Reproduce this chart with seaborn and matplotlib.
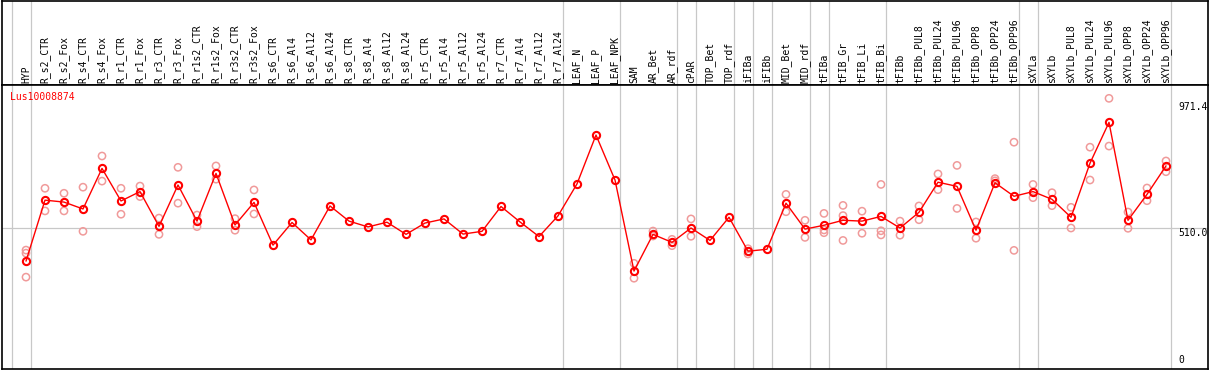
import numpy as np
import pandas as pd
import matplotlib
matplotlib.use("Agg")
import matplotlib.pyplot as plt
import seaborn as sns

categories = ["HYP", "R_s2_CTR", "R_s2_Fox", "R_s4_CTR", "R_s4_Fox", "R_r1_CTR", "R_r1_Fox",
              "R_r3_CTR", "R_r3_Fox", "R_r1s2_CTR", "R_r1s2_Fox", "R_r3s2_CTR", "R_r3s2_Fox",
              "R_s6_CTR", "R_s6_Al4", "R_s6_Al12", "R_s6_Al24", "R_s8_CTR", "R_s8_Al4",
              "R_s8_Al12", "R_s8_Al24", "R_r5_CTR", "R_r5_Al4", "R_r5_Al12", "R_r5_Al24",
              "R_r7_CTR", "R_r7_Al4", "R_r7_Al12", "R_r7_Al24", "LEAF_N", "LEAF_P", "LEAF_NPK",
              "SAM", "AR_Bet", "AR_rdf", "cPAR", "TOP_Bet", "TOP_rdf", "iFIBa", "iFIBb",
              "MID_Bet", "MID_rdf", "tFIBa", "tFIB_Gr", "tFIB_Li", "tFIB_Bi", "tFIBb",
              "tFIBb_PUL8", "tFIBb_PUL24", "tFIBb_PUL96", "tFIBb_OPP8", "tFIBb_OPP24",
              "tFIBb_OPP96", "sXYLa", "sXYLb", "sXYLb_PUL8", "sXYLb_PUL24", "sXYLb_PUL96",
              "sXYLb_OPP8", "sXYLb_OPP24", "sXYLb_OPP96"]

mean_values = [391, 612, 605, 580, 727, 609, 643, 517, 667, 536, 709, 522, 604,
               449, 531, 468, 591, 536, 515, 532, 488, 529, 544, 489, 499, 589, 533, 480, 555,
               671, 848, 685,
               355, 488, 459, 511, 466, 550, 427, 434, 601, 507, 521, 539, 536, 553,
               511, 568, 677, 662, 503, 675, 626,
               643, 615, 550, 746, 894, 539, 633, 736]

nan = np.nan
rep_a = [431, 655, 637, 659, 772, 655, 663, 547, 731, 558, 736, 545, 649,
         nan, nan, nan, nan, nan, nan, nan, nan, nan, nan, nan, nan, nan, nan, nan, nan,
         nan, nan, nan,
         383, 500, 470, 544, nan, nan, 436, nan, 633, 539, 564, 593, 572, 669,
         536, 591, 707, 738, 533, 690, 822,
         669, 639, 586, 804, 981, 569, 656, 754]
rep_b = [420, 573, 573, 499, 681, 561, 625, 488, 601, 516, 688, 503, 562,
         nan, nan, nan, nan, nan, nan, nan, nan, nan, nan, nan, nan, nan, nan, nan, nan,
         nan, nan, nan,
         329, 482, 447, 481, nan, nan, 417, nan, 570, 477, 504, 556, 492, 501,
         485, 541, 650, 582, 474, 682, 430,
         621, 592, 511, 685, 808, 510, 610, 715]
rep_c = [333, nan, nan, nan, nan, nan, nan, nan, nan, nan, nan, nan, nan,
         nan, nan, nan, nan, nan, nan, nan, nan, nan, nan, nan, nan, nan, nan, nan, nan,
         nan, nan, nan,
         nan, nan, nan, nan, nan, nan, nan, nan, nan, nan, 494, 466, nan, 486,
         nan, nan, nan, nan, nan, nan, nan,
         nan, nan, nan, nan, nan, nan, nan, nan]

# index of the last category in each group (group separators)
group_ends = [-1, 0, 28, 31, 34, 35, 37, 38, 39, 41, 42, 45, 52, 53, 60]

gene_name = "Lus10008874"
ytick_values = [971.4, 510.0, 0]
ytick_labels = ["971.4", "510.0", "0"]

sns.set_theme(style="white")
plt.rcParams['font.family'] = ['DejaVu Sans Mono', 'DejaVu Sans']

W, H = 1209, 370
fig = plt.figure(figsize=(W / 100, H / 100), dpi=100)

x_idx = np.arange(len(categories))
df_mean = pd.DataFrame({"idx": x_idx, "value": mean_values})
df_rep = pd.DataFrame({"idx": np.concatenate([x_idx, x_idx, x_idx]),
                       "value": np.concatenate([rep_a, rep_b, rep_c])}).dropna()

left_px, right_px = 1.5, 1207.5
sep_px, bottom_px = 85, 369
xlim = ((left_px - 26) / 19, (right_px - 26) / 19)

ax_h = fig.add_axes([left_px / W, 1 - sep_px / H, (right_px - left_px) / W, (sep_px - 0.5) / H])
ax = fig.add_axes([left_px / W, 1 - bottom_px / H, (right_px - left_px) / W, (bottom_px - sep_px) / H])

for a in (ax, ax_h):
    a.set_xlim(*xlim)
    a.set_xticks([])
    a.set_yticks([])
    for s in a.spines.values():
        s.set_color("black")
        s.set_linewidth(1.2)
    for g in group_ends:
        a.axvline(g + 0.25, color="#c8c8c8", lw=0.9, zorder=0)

ax_h.set_ylim(0, 1)
ax.set_ylim(0, (bottom_px - sep_px) * 3.6245)
ax.axhline(510.0, color="#c8c8c8", lw=0.9, zorder=0)

sns.scatterplot(data=df_rep, x="idx", y="value", ax=ax, marker="o", s=27,
                facecolors="none", edgecolor="#f09a9a", linewidth=1.1, zorder=2, legend=False)
sns.lineplot(data=df_mean, x="idx", y="value", ax=ax, color="red", lw=1.0,
             marker="o", markersize=5.2, markerfacecolor="none", markeredgecolor="red",
             markeredgewidth=1.5, zorder=3, legend=False)
ax.set_xlabel("")
ax.set_ylabel("")
ax.set_xlim(*xlim)

fs = 7
for i, c in enumerate(categories):
    ax_h.text(i, 2 / sep_px, c, rotation=90, ha="center", va="bottom",
              fontsize=fs, color="black")

ax.text(xlim[0] + (10 - left_px) / 19, (bottom_px - 97) * 3.6245, gene_name,
        color="red", fontsize=fs, ha="left", va="center")

x_lab = xlim[0] + (1178 - left_px) / 19
ax.text(x_lab, ytick_values[0] - 5, ytick_labels[0], fontsize=fs, ha="left", va="top", color="black")
ax.text(x_lab, ytick_values[1], ytick_labels[1], fontsize=fs, ha="left", va="top", color="black")
ax.text(x_lab, ytick_values[2] + 14, ytick_labels[2], fontsize=fs, ha="left", va="bottom", color="black")

fig.savefig("out.png", dpi=100)
